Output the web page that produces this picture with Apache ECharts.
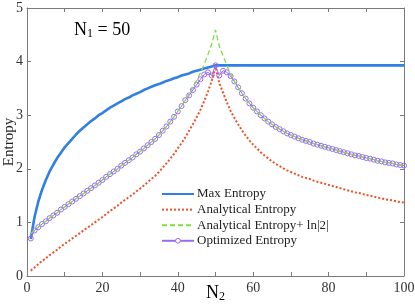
<!DOCTYPE html>
<html><head><meta charset="utf-8">
<script src="https://cdn.jsdelivr.net/npm/echarts@6/dist/echarts.min.js"></script>
<style>html,body{margin:0;padding:0;background:#fff}#c{width:415px;height:308px}</style>
</head><body><div id="c"></div>
<script>
// N2 values (x)
const n2 = [1,2,3,4,5,6,7,8,9,10,11,12,13,14,15,16,17,18,19,20,21,22,23,24,25,26,27,28,29,30,31,32,33,34,35,36,37,38,39,40,41,42,43,44,45,46,47,48,49,50,51,52,53,54,55,56,57,58,59,60,61,62,63,64,65,66,67,68,69,70,71,72,73,74,75,76,77,78,79,80,81,82,83,84,85,86,87,88,89,90,91,92,93,94,95,96,97,98,99,100];
// Max Entropy (x values and y values)
const maxX = [1,2,3,4,5,6,7,8,9,10,11,12,13,14,15,16,17,18,19,20,21,22,23,24,25,26,27,28,29,30,31,32,33,34,35,36,37,38,39,40,41,42,43,44,45,46,47,48,49,50,100];
const maxEntropy = [0.69,1.10,1.39,1.61,1.79,1.95,2.08,2.20,2.30,2.40,2.48,2.56,2.64,2.71,2.77,2.83,2.89,2.94,3.00,3.04,3.09,3.14,3.18,3.22,3.26,3.30,3.33,3.37,3.40,3.43,3.47,3.50,3.53,3.56,3.58,3.61,3.64,3.66,3.69,3.71,3.74,3.76,3.78,3.81,3.83,3.85,3.87,3.89,3.91,3.93,3.93];
const analytical = [0.10,0.16,0.22,0.28,0.33,0.39,0.44,0.49,0.55,0.60,0.65,0.70,0.75,0.80,0.85,0.90,0.95,1.00,1.05,1.10,1.16,1.21,1.26,1.31,1.37,1.42,1.47,1.52,1.58,1.63,1.69,1.75,1.81,1.87,1.94,2.02,2.10,2.19,2.28,2.38,2.48,2.59,2.71,2.83,2.96,3.10,3.26,3.44,3.64,3.90,3.60,3.42,3.24,3.08,2.95,2.83,2.72,2.62,2.53,2.45,2.38,2.31,2.25,2.19,2.14,2.09,2.05,2.01,1.97,1.94,1.91,1.88,1.85,1.83,1.81,1.78,1.76,1.74,1.72,1.70,1.68,1.66,1.64,1.62,1.60,1.58,1.56,1.55,1.53,1.51,1.50,1.48,1.46,1.45,1.43,1.42,1.41,1.39,1.38,1.37];
const analyticalLn2 = [0.79,0.85,0.91,0.97,1.02,1.08,1.13,1.18,1.24,1.29,1.34,1.39,1.44,1.49,1.54,1.59,1.64,1.69,1.74,1.79,1.85,1.90,1.95,2.00,2.06,2.11,2.16,2.21,2.27,2.32,2.38,2.44,2.50,2.56,2.63,2.71,2.79,2.88,2.97,3.07,3.17,3.28,3.40,3.52,3.65,3.79,3.95,4.13,4.33,4.59,4.29,4.11,3.93,3.77,3.64,3.52,3.41,3.31,3.22,3.14,3.07,3.00,2.94,2.88,2.83,2.78,2.74,2.70,2.66,2.63,2.60,2.57,2.54,2.52,2.50,2.47,2.45,2.43,2.41,2.39,2.37,2.35,2.33,2.31,2.29,2.27,2.25,2.24,2.22,2.20,2.19,2.17,2.15,2.14,2.12,2.11,2.10,2.08,2.07,2.06];
const optimized = [0.70,0.85,0.91,0.97,1.02,1.08,1.13,1.18,1.24,1.29,1.34,1.39,1.44,1.49,1.54,1.59,1.64,1.69,1.74,1.79,1.85,1.90,1.95,2.00,2.06,2.11,2.16,2.21,2.27,2.32,2.38,2.44,2.50,2.56,2.63,2.71,2.79,2.88,2.97,3.07,3.17,3.28,3.37,3.47,3.57,3.67,3.76,3.80,3.74,3.93,3.74,3.83,3.80,3.73,3.63,3.52,3.41,3.31,3.22,3.14,3.07,3.00,2.94,2.88,2.83,2.78,2.74,2.70,2.66,2.63,2.60,2.57,2.54,2.52,2.50,2.47,2.45,2.43,2.41,2.39,2.37,2.35,2.33,2.31,2.29,2.27,2.25,2.24,2.22,2.20,2.19,2.17,2.15,2.14,2.12,2.11,2.10,2.08,2.07,2.06];
const xTicks = [0,20,40,60,80,100];
const yTicks = [0,1,2,3,4,5];
const names = ['Max Entropy','Analytical Entropy','Analytical Entropy+ ln|2|','Optimized Entropy'];

const pair = (xs, ys) => xs.map((x, i) => [x, ys[i]]);
const FONT = '"Liberation Serif", "DejaVu Serif", serif';
const AX = '#7a7a7a';
const PURPLE = '#9a6cf0';
const subRich = {
  n: {fontFamily: FONT, fontSize: 18, fontWeight: 'normal', color: '#000', lineHeight: 20, verticalAlign: 'bottom'},
  s: {fontFamily: FONT, fontSize: 12, fontWeight: 'normal', color: '#000', lineHeight: 20, verticalAlign: 'bottom', padding: [0,0,-1,0]}
};
const chart = echarts.init(document.getElementById('c'), null, {renderer: 'canvas'});
const xCommon = {type: 'value', min: 0, max: 100, interval: 10,
  axisLine: {show: true, onZero: false, lineStyle: {color: AX, width: 1}},
  axisTick: {show: true, inside: true, length: 4, lineStyle: {color: AX}},
  splitLine: {show: false}};
const yCommon = {type: 'value', min: 0, max: 5, interval: 1,
  axisLine: {show: true, onZero: false, lineStyle: {color: AX, width: 1}},
  axisTick: {show: true, inside: true, length: 4, lineStyle: {color: AX}},
  splitLine: {show: false}};
chart.setOption({
  animation: false,
  backgroundColor: '#fff',
  title: {text: '{n|N}{s|1}{n| = 50}', left: 74, top: 19, padding: 0,
    textStyle: {fontWeight: 'normal', rich: subRich}},
  grid: {left: 27, right: 11, top: 8, bottom: 32, containLabel: false, outerBoundsMode: 'none'},
  legend: {orient: 'vertical', left: 161, top: 187, padding: 0, itemWidth: 32, itemHeight: 6, itemGap: 1.6,
    data: [
      {name: names[0], itemStyle: {opacity: 0}},
      {name: names[1], itemStyle: {opacity: 0}},
      {name: names[2], itemStyle: {opacity: 0}},
      {name: names[3], itemStyle: {color: '#ffffff', borderColor: PURPLE, borderWidth: 1}}
    ],
    textStyle: {fontFamily: FONT, fontSize: 13, color: '#222', lineHeight: 14, padding: [0,0,0,-2]}},
  xAxis: [
    Object.assign({}, xCommon, {position: 'bottom',
      name: '{n|N}{s|2}', nameLocation: 'middle', nameGap: 6, nameMoveOverlap: false,
      nameTextStyle: {rich: subRich},
      axisLabel: {show: true, margin: 5, fontFamily: FONT, fontSize: 14, color: '#333',
        formatter: v => (xTicks.indexOf(v) >= 0 ? String(v) : '')}}),
    Object.assign({}, xCommon, {position: 'top', axisLabel: {show: false}})
  ],
  yAxis: [
    Object.assign({}, yCommon, {position: 'left',
      name: 'Entropy', nameLocation: 'middle', nameGap: 10, nameRotate: 90, nameMoveOverlap: false,
      nameTextStyle: {fontFamily: FONT, fontSize: 15, color: '#222'},
      axisLabel: {show: true, margin: 4, fontFamily: FONT, fontSize: 14, color: '#333',
        formatter: v => (yTicks.indexOf(v) >= 0 ? String(v) : '')}}),
    Object.assign({}, yCommon, {position: 'right', axisLabel: {show: false}})
  ],
  series: [
    {name: names[0], type: 'line', data: pair(maxX, maxEntropy), symbol: 'none', showSymbol: false, z: 2,
      lineStyle: {color: '#2f7fe6', width: 2.6}, itemStyle: {color: '#2f7fe6'}},
    {name: names[1], type: 'line', data: pair(n2, analytical), symbol: 'none', showSymbol: false, z: 3,
      lineStyle: {color: '#f05026', width: 2, type: [2, 2]}, itemStyle: {color: '#f05026'}},
    {name: names[3], type: 'line', data: pair(n2, optimized), symbol: 'circle', symbolSize: 5, showSymbol: true, z: 4,
      lineStyle: {color: PURPLE, width: 1}, itemStyle: {color: 'rgba(255,255,255,0)', borderColor: PURPLE, borderWidth: 1}},
    {name: names[2], type: 'line', data: pair(n2, analyticalLn2), symbol: 'none', showSymbol: false, z: 5,
      lineStyle: {color: '#7ee03c', width: 1.3, type: [5, 3]}, itemStyle: {color: '#7ee03c'}}
  ]
});
</script></body></html>
